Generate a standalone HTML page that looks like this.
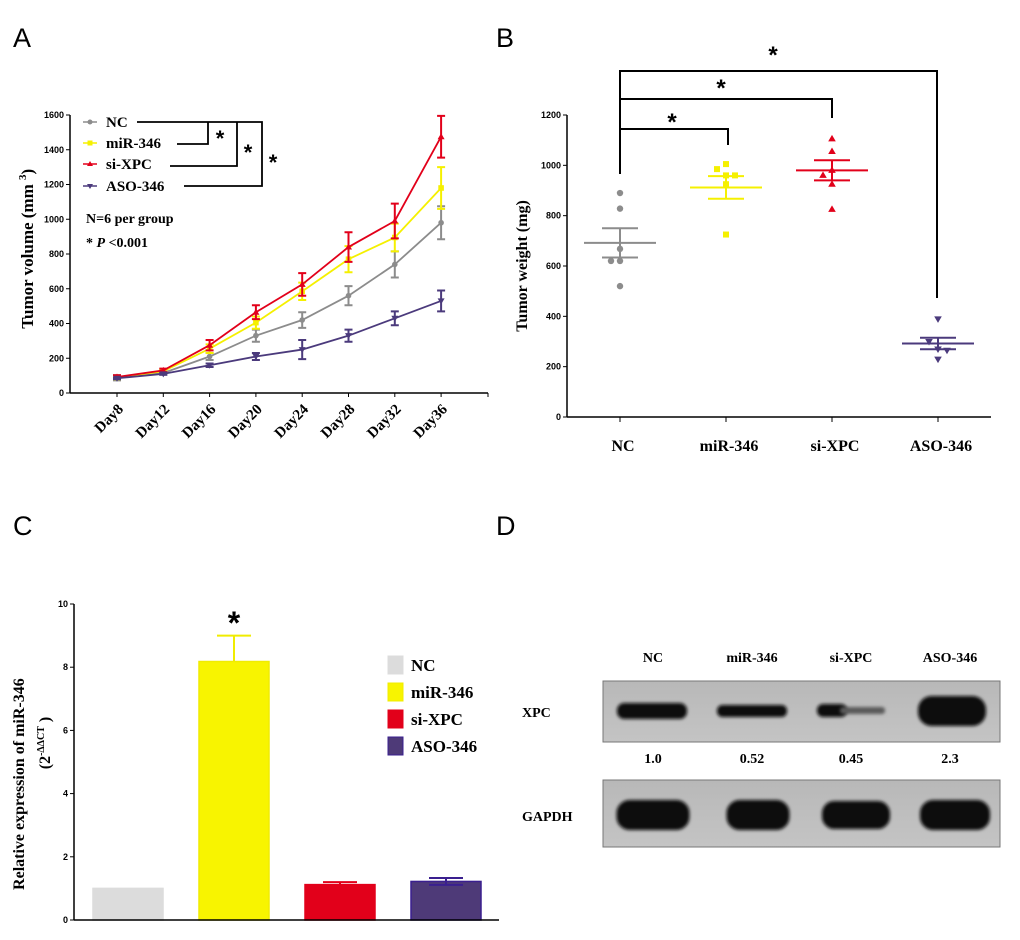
<!DOCTYPE html>
<html><head><meta charset="utf-8"><style>
body{margin:0;background:#fff}
svg{display:block}
.t{font-family:"Liberation Serif",serif;font-weight:bold}
.s{font-family:"Liberation Sans",sans-serif}
</style></head><body>
<svg id="fig" width="1020" height="940" viewBox="0 0 1020 940">
<defs>
<filter id="blur" x="-30%" y="-80%" width="160%" height="260%"><feGaussianBlur stdDeviation="1.6"/></filter>
<linearGradient id="blotbg" x1="0" y1="0" x2="0" y2="1"><stop offset="0" stop-color="#b8b8b8"/><stop offset="1" stop-color="#c4c4c4"/></linearGradient>
</defs>
<text class="s" x="13" y="47" font-size="27">A</text>
<text class="s" x="496" y="47" font-size="27">B</text>
<text class="s" x="13" y="535" font-size="27">C</text>
<text class="s" x="496" y="535" font-size="27">D</text>
<g id="pa"></g>
<g id="pb"></g>
<g id="pc"></g>
<g id="pd"></g>
</svg>
<script>
// Panel A data
const daysA = ["Day8","Day12","Day16","Day20","Day24","Day28","Day32","Day36"];
const ticksA = [0,200,400,600,800,1000,1200,1400,1600];
const seriesNamesA = ["NC","miR-346","si-XPC","ASO-346"];
const ncA = [88,115,210,330,420,560,740,980];
const ncErrA = [15,10,20,35,45,55,75,95];
const mirA = [90,125,255,405,585,770,895,1180];
const mirErrA = [10,10,25,35,50,75,80,120];
const siA = [92,130,275,465,625,840,990,1475];
const siErrA = [10,10,30,40,65,85,100,120];
const asoA = [85,110,160,210,250,330,430,530];
const asoErrA = [5,5,10,20,55,35,40,60];
// Panel B data
const groupsB = ["NC","miR-346","si-XPC","ASO-346"];
const ticksB = [0,200,400,600,800,1000,1200];
const ncPtsB = [890,828,668,620,620,520];
const mirPtsB = [1005,985,960,960,725,925];
const siPtsB = [1105,1055,960,980,925,825];
const asoPtsB = [390,300,270,265,230];
const meanB = [692,912,980,292];
const semB = [58,45,40,23];
// Panel C data
const groupsC = ["NC","miR-346","si-XPC","ASO-346"];
const ticksC = [0,2,4,6,8,10];
const valuesC = [1.0,8.18,1.12,1.22];
const errC = [0,0.82,0.08,0.11];
// Panel D data
const lanesD = ["NC","miR-346","si-XPC","ASO-346"];
const ratioD = ["1.0","0.52","0.45","2.3"];

const NS="http://www.w3.org/2000/svg";
function mk(parent,tag,attrs,text){const e=document.createElementNS(NS,tag);for(const k in attrs)e.setAttribute(k,attrs[k]);if(text!==undefined)e.textContent=text;parent.appendChild(e);return e;}
const colors=["#8c8c8c","#f5f000","#e2001a","#4b3a7c"];

// ---------- Panel A ----------
(function(){
const g=document.getElementById('pa');
const x0=70,x1=488,y0=393,yTop=115;
const yA=v=>y0-v*(y0-yTop)/1600;
const xA=i=>117+i*46.3;
let e=mk(g,'line',{x1:x0,y1:y0,x2:x1,y2:y0,stroke:'#000','stroke-width':1.5});

e=mk(g,'line',{x1:x0,y1:yTop,x2:x0,y2:y0,stroke:'#000','stroke-width':1.5});

ticksA.forEach(t=>{mk(g,'line',{x1:x0-4,y1:yA(t),x2:x0,y2:yA(t),stroke:'#000'});
 e=mk(g,'text',{x:x0-6,y:yA(t)+3,'font-size':9,'text-anchor':'end','class':'s','font-weight':'bold'},t);
 });
daysA.forEach((d,i)=>{mk(g,'line',{x1:xA(i),y1:y0,x2:xA(i),y2:y0+4,stroke:'#000'});
 e=mk(g,'text',{x:xA(i)+7,y:y0+17,'font-size':15,'text-anchor':'end','class':'t',transform:`rotate(-45 ${xA(i)+7} ${y0+17})`},d);
 });
mk(g,'line',{x1:x1,y1:y0,x2:x1,y2:y0+4,stroke:'#000'});
e=mk(g,'text',{x:0,y:0,'font-size':17,'class':'t','text-anchor':'middle',transform:`translate(33 ${yA(830)}) rotate(-90)`});
e.innerHTML='Tumor volume (mm <tspan font-size="11" dy="-7">3</tspan><tspan dy="7">)</tspan>';

const vals=[ncA,mirA,siA,asoA],errs=[ncErrA,mirErrA,siErrA,asoErrA];
vals.forEach((s,k)=>{
 const sg=mk(g,'g',{});
 mk(sg,'polyline',{points:s.map((v,i)=>xA(i)+','+yA(v)).join(' '),fill:'none',stroke:colors[k],'stroke-width':1.8});
 s.forEach((v,i)=>{const x=xA(i),er=errs[k][i];
  mk(sg,'path',{d:`M${x} ${yA(v-er)}V${yA(v+er)}M${x-4} ${yA(v-er)}h8M${x-4} ${yA(v+er)}h8`,stroke:colors[k],'stroke-width':2,fill:'none'});
  let p;
  if(k===0)p=mk(sg,'circle',{cx:x,cy:yA(v),r:2.8,fill:colors[k]});
  else if(k===1)p=mk(sg,'rect',{x:x-2.8,y:yA(v)-2.8,width:5.6,height:5.6,fill:colors[k]});
  else if(k===2)p=mk(sg,'path',{d:`M${x} ${yA(v)-3.5}l3.5 6h-7z`,fill:colors[k]});
  else p=mk(sg,'path',{d:`M${x} ${yA(v)+3.5}l3.5 -6h-7z`,fill:colors[k]});
  
 });
});
// legend
const ly=[122,143,164,186];
seriesNamesA.forEach((n,k)=>{
 const lg=mk(g,'g',{});
 mk(lg,'line',{x1:83,y1:ly[k],x2:97,y2:ly[k],stroke:colors[k],'stroke-width':1.5});
 const x=90,y=ly[k];
 if(k===0)mk(lg,'circle',{cx:x,cy:y,r:2.5,fill:colors[k]});
 else if(k===1)mk(lg,'rect',{x:x-2.5,y:y-2.5,width:5,height:5,fill:colors[k]});
 else if(k===2)mk(lg,'path',{d:`M${x} ${y-3}l3 5h-6z`,fill:colors[k]});
 else mk(lg,'path',{d:`M${x} ${y+3}l3 -5h-6z`,fill:colors[k]});
 mk(lg,'text',{x:106,y:y+5,'font-size':15,'class':'t'},n);
});
mk(g,'path',{d:'M137 122H262V186H184M208 122V144H177M237 122V166H170',fill:'none',stroke:'#000','stroke-width':1.8});
[[220,146],[248,160],[273,170]].forEach(p=>{e=mk(g,'text',{x:p[0],y:p[1],'font-size':22,'class':'s','font-weight':'bold','text-anchor':'middle'},'*');});
e=mk(g,'text',{x:86,y:223,'font-size':14,'class':'t'},'N=6 per group');
e=mk(g,'text',{x:86,y:247,'font-size':14,'class':'t'});e.innerHTML='* <tspan font-style="italic">P</tspan> &lt;0.001';
})();

// ---------- Panel B ----------
(function(){
const g=document.getElementById('pb');
const x0=567,x1=991,y0=417,yTop=115;
const yB=v=>y0-v*(y0-yTop)/1200;
const xB=i=>620+i*106;
let e=mk(g,'line',{x1:x0,y1:y0,x2:x1,y2:y0,stroke:'#000','stroke-width':1.5});
e=mk(g,'line',{x1:x0,y1:yTop,x2:x0,y2:y0,stroke:'#000','stroke-width':1.5});
ticksB.forEach(t=>{mk(g,'line',{x1:x0-4,y1:yB(t),x2:x0,y2:yB(t),stroke:'#000'});
 e=mk(g,'text',{x:x0-6,y:yB(t)+3,'font-size':9,'text-anchor':'end','class':'s','font-weight':'bold'},t);});
groupsB.forEach((n,i)=>{mk(g,'line',{x1:xB(i),y1:y0,x2:xB(i),y2:y0+5,stroke:'#000'});
 e=mk(g,'text',{x:xB(i)+3,y:y0+34,'font-size':16,'text-anchor':'middle','class':'t'},n);});
e=mk(g,'text',{x:0,y:0,'font-size':16,'class':'t','text-anchor':'middle',transform:`translate(527 ${yB(600)}) rotate(-90)`},'Tumor weight (mg)');
const pts=[ncPtsB,mirPtsB,siPtsB,asoPtsB];
const jit=[[0,0,0,-9,0,0],[0,-9,0,9,0,0],[0,0,-9,0,0,0],[0,-9,0,9,0]];
pts.forEach((s,k)=>{
 const sg=mk(g,'g',{});
 s.forEach((v,j)=>{const x=xB(k)+jit[k][j],y=yB(v);let p;
  if(k===0)p=mk(sg,'circle',{cx:x,cy:y,r:3.2,fill:colors[0]});
  else if(k===1)p=mk(sg,'rect',{x:x-3,y:y-3,width:6,height:6,fill:colors[1]});
  else if(k===2)p=mk(sg,'path',{d:`M${x} ${y-4}l3.8 6.5h-7.6z`,fill:colors[2]});
  else p=mk(sg,'path',{d:`M${x} ${y+4}l3.8 -6.5h-7.6z`,fill:colors[3]});
  });
 const x=xB(k),m=meanB[k],se=semB[k];
 e=mk(sg,'path',{d:`M${x-36} ${yB(m)}h72M${x} ${yB(m-se)}V${yB(m+se)}M${x-18} ${yB(m-se)}h36M${x-18} ${yB(m+se)}h36`,stroke:colors[k],'stroke-width':2,fill:'none'});
 
});
e=mk(g,'path',{d:'M620 174V71H937V298M620 99H832V118M620 129H728V145',fill:'none',stroke:'#000','stroke-width':2});
[[773,63],[721,96],[672,130]].forEach(p=>{e=mk(g,'text',{x:p[0],y:p[1],'font-size':24,'class':'s','font-weight':'bold','text-anchor':'middle'},'*');});
})();

// ---------- Panel C ----------
(function(){
const g=document.getElementById('pc');
const x0=74,x1=499,y0=920,yTop=604;
const yC=v=>y0-v*(y0-yTop)/10;
const xC=i=>128+i*106;
const fills=["#dcdcdc","#f8f400","#e2001a","#4e3a78"],strokes=["#dcdcdc","#f0ec00","#e2001a","#3a1f8f"];
valuesC.forEach((v,i)=>{
 let e=mk(g,'rect',{x:xC(i)-35,y:yC(v),width:70,height:y0-yC(v),fill:fills[i],stroke:strokes[i],'stroke-width':1.5});
 
 if(errC[i]>0){const ec=i===3?'#3a1f8f':strokes[i];
  e=mk(g,'path',{d:`M${xC(i)} ${yC(v)}V${yC(v+errC[i])}M${xC(i)-17} ${yC(v+errC[i])}h34`+(i===3?`M${xC(i)-17} ${yC(v-errC[i])}h34M${xC(i)} ${yC(v)}V${yC(v-errC[i])}`:''),stroke:ec,'stroke-width':2,fill:'none'});
  }
});
let e=mk(g,'line',{x1:x0,y1:y0,x2:x1,y2:y0,stroke:'#000','stroke-width':1.5});
e=mk(g,'line',{x1:x0,y1:yTop,x2:x0,y2:y0,stroke:'#000','stroke-width':1.5});
ticksC.forEach(t=>{mk(g,'line',{x1:x0-4,y1:yC(t),x2:x0,y2:yC(t),stroke:'#000'});
 e=mk(g,'text',{x:x0-6,y:yC(t)+3,'font-size':9,'text-anchor':'end','class':'s','font-weight':'bold'},t);});
e=mk(g,'text',{x:0,y:0,'font-size':16,'class':'t','text-anchor':'middle',transform:`translate(24 ${yC(4.3)}) rotate(-90)`},'Relative expression of miR-346');
e=mk(g,'text',{x:0,y:0,'font-size':16,'class':'t','text-anchor':'middle',transform:`translate(50 ${yC(5.6)}) rotate(-90)`});e.innerHTML='(2<tspan font-size="10" dy="-6">-ΔΔCT</tspan><tspan dy="6"> )</tspan>';
e=mk(g,'text',{x:xC(1),y:634,'font-size':32,'class':'s','font-weight':'bold','text-anchor':'middle'},'*');
const ly=[665,692,719,746];
groupsC.forEach((n,i)=>{const lg=mk(g,'g',{});
 mk(lg,'rect',{x:388,y:ly[i]-9,width:15,height:18,fill:fills[i],stroke:strokes[i]});
 mk(lg,'text',{x:411,y:ly[i]+6,'font-size':17,'class':'t'},n);});
})();

// ---------- Panel D ----------
(function(){
const g=document.getElementById('pd');
const lx=i=>651+i*99;
lanesD.forEach((n,i)=>{let e=mk(g,'text',{x:lx(i)+2,y:662,'font-size':14,'class':'t','text-anchor':'middle'},n);
 e=mk(g,'text',{x:lx(i)+2,y:763,'font-size':14,'class':'t','text-anchor':'middle'},ratioD[i]);});
let e=mk(g,'text',{x:522,y:717,'font-size':14,'class':'t'},'XPC');
e=mk(g,'text',{x:522,y:821,'font-size':14,'class':'t'},'GAPDH');
e=mk(g,'rect',{x:603,y:681,width:397,height:61,fill:'url(#blotbg)',stroke:'#777'});
e=mk(g,'rect',{x:603,y:780,width:397,height:67,fill:'url(#blotbg)',stroke:'#777'});
[[652,70,16],[752,70,12],[952,68,30]].forEach(b=>{mk(g,'rect',{x:b[0]-b[1]/2,y:711-b[2]/2,width:b[1],height:b[2],rx:b[2]/2.2,fill:'#0a0a0a',filter:'url(#blur)'});});
mk(g,'rect',{x:817,y:704,width:30,height:13,rx:6,fill:'#111',filter:'url(#blur)'});
mk(g,'rect',{x:840,y:707,width:45,height:7,rx:3,fill:'#5a5a5a',filter:'url(#blur)'});
[[653,73,30],[758,63,30],[856,68,28],[955,70,30]].forEach(b=>{mk(g,'rect',{x:b[0]-b[1]/2,y:815-b[2]/2,width:b[1],height:b[2],rx:b[2]/2.3,fill:'#0a0a0a',filter:'url(#blur)'});});
})();
</script>
</body></html>
